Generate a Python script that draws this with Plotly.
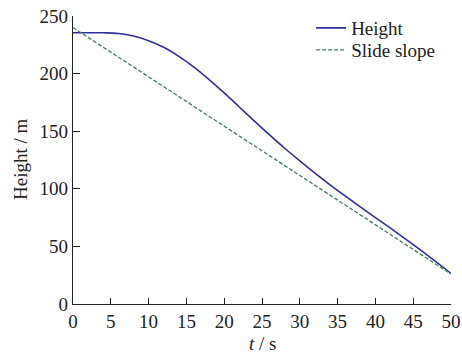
import plotly.graph_objects as go

t = [0, 2, 4, 6, 8, 10, 12, 14, 16, 18, 20, 22, 24, 26, 28, 30, 32, 34, 36, 38, 40, 42, 44, 46, 48, 50]
height = [235.5, 235.5, 235.4, 234.8, 232.6, 228.6, 222.8, 215.0, 205.6, 194.8, 183.2, 171.0, 158.8,
          146.8, 135.2, 124.2, 113.6, 103.5, 93.8, 84.3, 75.0, 65.8, 56.4, 46.7, 36.7, 26.5]
slope_t = [0, 50]
slope_h = [240.0, 26.0]

FONT = "Liberation Serif"
FS = 19

fig = go.Figure()
fig.add_trace(go.Scatter(x=t, y=height, mode="lines", name="Height", legend="legend",
                         showlegend=True,
                         line=dict(color="#2e2f9c", width=1.6, shape="spline")))
fig.add_trace(go.Scatter(x=slope_t, y=slope_h, mode="lines", name="Slide slope", legend="legend2",
                         showlegend=True,
                         line=dict(color="#3d7d58", width=1.3, dash="4px,2px")))

def leg(ypix):
    return dict(x=0.63, y=(304 - ypix) / 288, xanchor="left", yanchor="top",
                bgcolor="rgba(0,0,0,0)", font=dict(family=FONT, size=FS, color="#222"),
                itemwidth=30)

fig.update_layout(
    width=462, height=354,
    showlegend=True,
    margin=dict(l=73, r=11, t=16, b=50, autoexpand=False),
    paper_bgcolor="white", plot_bgcolor="white",
    font=dict(family=FONT, size=FS, color="#222"),
    legend=leg(9),
    legend2=leg(31),
    xaxis=dict(range=[0, 50], tickvals=[0, 5, 10, 15, 20, 25, 30, 35, 40, 45, 50],
               ticks="inside", ticklen=6, tickwidth=1.3, tickcolor="#222",
               showline=True, linecolor="#222", linewidth=1.3, showgrid=False, zeroline=False,
               tickfont=dict(size=FS), automargin=False),
    yaxis=dict(range=[0, 250], tickvals=[0, 50, 100, 150, 200, 250],
               ticks="inside", ticklen=7, tickwidth=1.3, tickcolor="#222",
               showline=True, linecolor="#222", linewidth=1.3, showgrid=False, zeroline=False,
               tickfont=dict(size=FS), automargin=False),
    annotations=[
        dict(text="<i>t</i> / s", xref="paper", yref="paper", x=0.5, y=(304 - 343) / 288,
             xanchor="center", yanchor="middle", showarrow=False, font=dict(size=FS)),
        dict(text="Height / m", xref="paper", yref="paper", x=(20 - 73) / 378, y=0.5,
             xanchor="center", yanchor="middle", textangle=-90, showarrow=False, font=dict(size=FS)),
    ],
)

fig.write_html("out.html", config={"displayModeBar": False},
               post_script="document.body.style.margin='0';document.body.style.overflow='hidden';")
